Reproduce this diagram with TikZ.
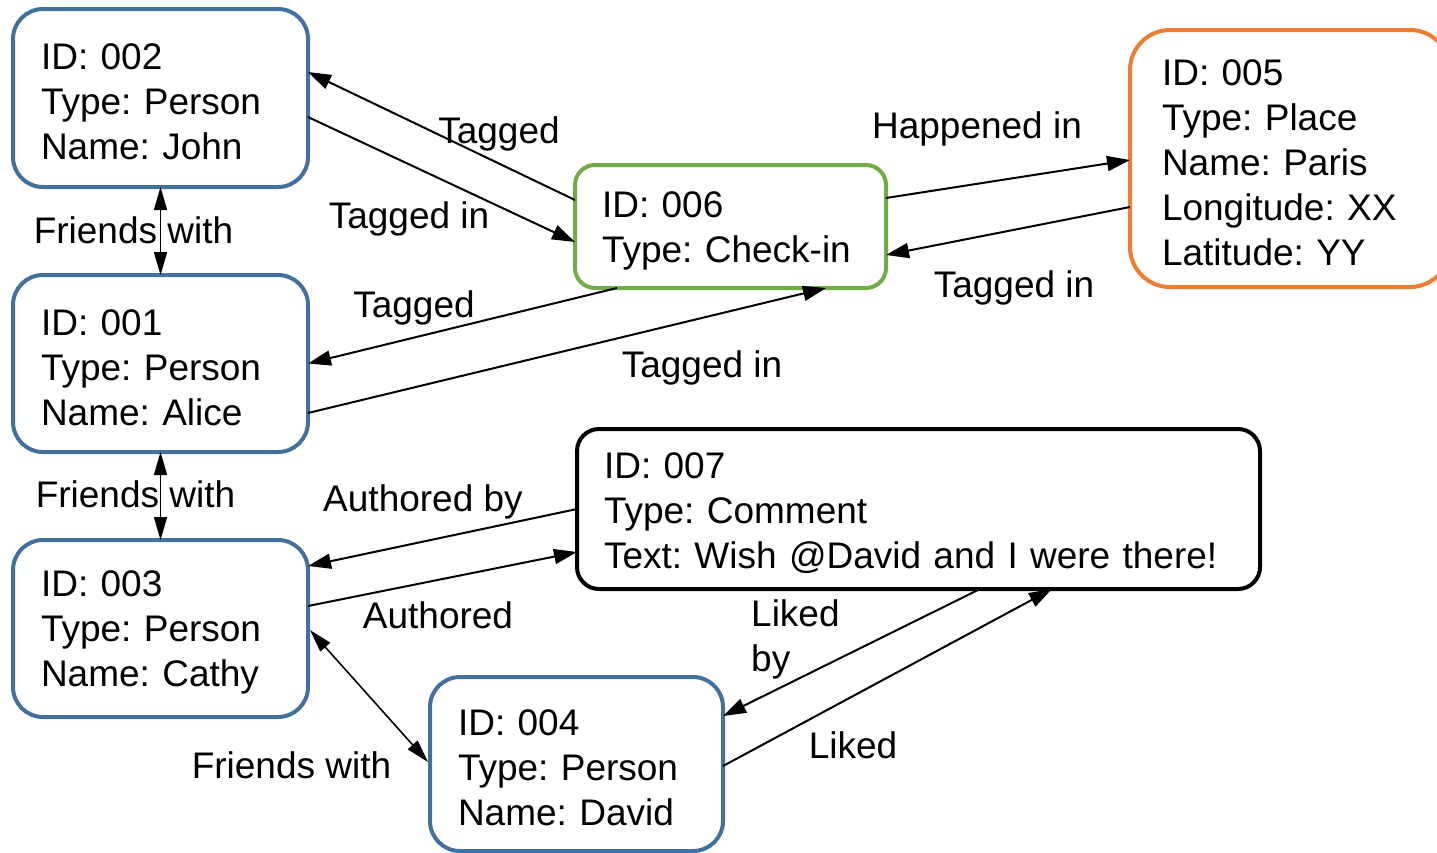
\documentclass[tikz,border=0pt]{standalone}
\usepackage{fontspec}
\setmainfont{Liberation Sans}
\usetikzlibrary{arrows.meta}
\definecolor{personblue}{HTML}{41719C}
\definecolor{checkgreen}{HTML}{70AD47}
\definecolor{placeorange}{HTML}{ED7D31}
% extra height on the first line pushes each entity's text block down a little
\newcommand{\firstline}{\rule{0pt}{34pt}}
\begin{document}
\begin{tikzpicture}[x=1pt,y=-1pt,
  every node/.style={font=\fontsize{37}{45}\selectfont\frenchspacing},
  entity/.style={draw, line width=4pt, fill=white, align=left, outer sep=0pt,
    inner xsep=28pt, inner ysep=0pt},
  person/.style={entity, draw=personblue, rounded corners=30pt},
  lbl/.style={inner sep=0pt, text height=27pt, text depth=8pt},
  link/.style={line width=2pt, -{Triangle[length=23pt,width=15pt]}},
  friends/.style={line width=1.6pt,
    {Triangle[length=23pt,width=13pt]}-{Triangle[length=23pt,width=13pt]}}]
\useasboundingbox (0,0) rectangle (1437,852);

% entities
\node[person, text width=239pt, minimum height=178pt] (john) at (160.5,98)
  {\firstline ID: 002\\Type: Person\\Name: John};
\node[person, text width=239pt, minimum height=177pt] (alice) at (160.5,363.5)
  {\firstline ID: 001\\Type: Person\\Name: Alice};
\node[person, text width=239pt, minimum height=177pt] (cathy) at (160.5,628.5)
  {\firstline ID: 003\\Type: Person\\Name: Cathy};
\node[person, text width=237pt, minimum height=174pt] (david) at (576.5,764)
  {\firstline ID: 004\\Type: Person\\Name: David};
\node[entity, draw=checkgreen, rounded corners=20pt, inner xsep=27pt,
  text width=257pt, minimum height=123pt] (checkin) at (730.5,226.5)
  {\firstline ID: 006\\Type: Check-in};
\node[entity, draw=placeorange, rounded corners=40pt, inner xsep=32pt,
  text width=256pt, minimum height=257pt] (paris) at (1290,158.5)
  {\firstline ID: 005\\Type: Place\\Name: Paris\\Longitude: XX\\Latitude: YY};
\node[entity, draw=black, rounded corners=22pt, inner xsep=27pt,
  text width=629pt, minimum height=160pt] (comment) at (918.5,509)
  {\firstline ID: 007\\Type: Comment\\Text: Wish @David and I were there!};

% relations
\draw[link] ([yshift=26.5pt]checkin.west) -- ([yshift=26pt]john.east);
\draw[link] ([yshift=-19pt]john.east) -- ([yshift=-15.5pt]checkin.west);
\draw[friends] (john.south) -- (alice.north);
\draw[link] ([xshift=-113.5pt]checkin.south) -- (alice.east);
\draw[link] ([yshift=-49.5pt]alice.east) -- ([xshift=95.5pt]checkin.south);
\draw[link] ([yshift=28.5pt]checkin.east) -- ([yshift=-1.5pt]paris.west);
\draw[link] ([yshift=-48.5pt]paris.west) -- ([yshift=-28.5pt]checkin.east);
\draw[friends] (alice.south) -- (cathy.north);
\draw[link] (comment.west) -- ([yshift=62.5pt]cathy.east);
\draw[link] ([yshift=22.5pt]cathy.east) -- ([yshift=-43pt]comment.west);
\draw[friends] ([xshift=2pt,yshift=-1.5pt]cathy.east) -- ([xshift=-2pt,yshift=2pt]david.west);
\draw[link] ([xshift=61.5pt]comment.south) -- ([yshift=48pt]david.east);
\draw[link] ([yshift=-2pt]david.east) -- ([xshift=133.5pt]comment.south);

% relation labels
\node[lbl] (l1) at (499,134) {Tagged};
\node[lbl] (l2) at (409,219) {Tagged in};
\node[lbl] (l3) at (133.5,234) {Friends with};
\node[lbl] (l4) at (414,308) {Tagged};
\node[lbl] (l5) at (702,368) {Tagged in};
\node[lbl] (l6) at (977,129) {Happened in};
\node[lbl] (l7) at (1014,288) {Tagged in};
\node[lbl] (l8) at (135.5,498) {Friends with};
\node[lbl] (l9) at (423,502) {Authored by};
\node[lbl] (l10) at (438,619) {Authored};
\node[inner sep=0pt, align=left, anchor=north west] (l11) at (751,599) {Liked\\by};
\node[lbl] (l12) at (291.5,769) {Friends with};
\node[lbl] (l13) at (853,749) {Liked};
\end{tikzpicture}
\end{document}
